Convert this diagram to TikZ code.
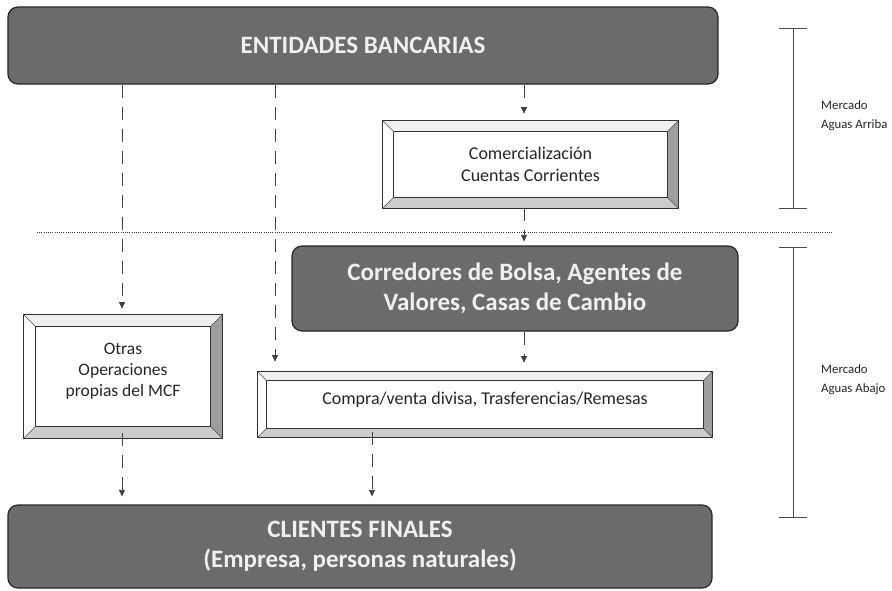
\documentclass[tikz,border=0pt]{standalone}
\usepackage{fontspec}
\setmainfont{Carlito}
\usetikzlibrary{calc,arrows.meta}
\tikzset{
  darkbox/.style={draw=black!85, line width=1.2pt, fill=black!58, rounded corners=10pt,
    text=black!6, font=\bfseries\fontsize{25}{30.5}\selectfont, align=center, inner sep=0pt},
  bevbox/.style={draw=black!80, line width=0.8pt, fill=white, inner sep=0pt},
  bevtext/.style={align=center, inner sep=0pt, font=\fontsize{18}{22.5}\selectfont, text=black!85},
  flow/.style={draw=black!75, line width=0.7pt, dash pattern=on 13pt off 9pt,
    -{Triangle[width=6pt,length=6.5pt]}},
  bracket/.style={draw=black!70, line width=0.7pt},
  side/.style={font=\fontsize{12.8}{19}\selectfont, align=left, anchor=west, text=black!85, inner sep=0pt}
}
\newcommand\bevelfaces[2]{%
  \fill[black!6] (#1.north west) -- (#1.north east) -- ($(#1.north east)+(-#2,#2)$) -- ($(#1.north west)+(#2,#2)$) -- cycle;
  \fill[white] (#1.north west) -- ($(#1.north west)+(#2,#2)$) -- ($(#1.south west)+(#2,-#2)$) -- (#1.south west) -- cycle;
  \fill[black!38] (#1.north east) -- (#1.south east) -- ($(#1.south east)+(-#2,-#2)$) -- ($(#1.north east)+(-#2,#2)$) -- cycle;
  \fill[black!20] (#1.south west) -- (#1.south east) -- ($(#1.south east)+(-#2,-#2)$) -- ($(#1.south west)+(#2,-#2)$) -- cycle;
  \draw[black!80, line width=0.8pt] (#1.north west) rectangle (#1.south east);
  \draw[black!80, line width=0.8pt] ($(#1.north west)+(#2,#2)$) rectangle ($(#1.south east)+(-#2,-#2)$);
  \draw[black!70, line width=0.5pt] (#1.north west) -- ($(#1.north west)+(#2,#2)$)
     (#1.north east) -- ($(#1.north east)+(-#2,#2)$)
     (#1.south west) -- ($(#1.south west)+(#2,-#2)$)
     (#1.south east) -- ($(#1.south east)+(-#2,-#2)$);
}
\begin{document}
\begin{tikzpicture}[x=1pt,y=-1pt]
\useasboundingbox[fill=white] (0,0) rectangle (892,590);

% dark boxes
\node[darkbox, minimum width=710pt, minimum height=77pt] (ent) at (363,45.5) {ENTIDADES BANCARIAS};
\node[darkbox, minimum width=446pt, minimum height=85pt] (corr) at (515,288.5)
  {Corredores de Bolsa, Agentes de\\Valores, Casas de Cambio};
\node[darkbox, minimum width=704pt, minimum height=83pt] (cli) at (360,546.5)
  {CLIENTES FINALES\\(Empresa, personas naturales)};

% bevel boxes
\node[bevbox, minimum width=295pt, minimum height=87pt] (com) at (530.5,164.5) {};
\bevelfaces{com}{11}
\node[bevtext] (comt) at (com.center) {Comercialización\\Cuentas Corrientes};

\node[bevbox, minimum width=198pt, minimum height=123pt] (otr) at (123,376.5) {};
\bevelfaces{otr}{12}
\node[bevtext, font=\fontsize{17.5}{21}\selectfont] (otrt) at (123,371) {Otras\\Operaciones\\propias del MCF};

\node[bevbox, minimum width=454pt, minimum height=65pt] (cmp) at (485,404.5) {};
\bevelfaces{cmp}{9}
\node[bevtext] (cmpt) at (485,400) {Compra/venta divisa, Trasferencias/Remesas};

% separator
\coordinate (dl) at (37,232);
\coordinate (dr) at (832,232);
\draw[black!75, line width=1pt, dash pattern=on 1pt off 1.2pt] (dl) -- (dr);

% flows
\draw[flow, shorten >=7pt] (ent.south -| 524,0) -- (com.north -| 524,0);
\draw[flow, shorten >=4pt] (com.south -| 524,0) -- (corr.north -| 524,0);
\draw[flow, shorten >=9pt] (corr.south -| 524,0) -- (cmp.north -| 524,0);
\draw[flow, shorten >=6pt] (ent.south -| 122,0) -- (otr.north -| 122,0);
\draw[flow, shorten >=10pt] (ent.south -| 275,0) -- (cmp.north -| 275,0);
\draw[flow, shorten >=8pt] ([yshift=5pt]otr.south -| 122,0) -- (cli.north -| 122,0);
\draw[flow, shorten >=8pt] ([yshift=5pt]cmp.south -| 372,0) -- (cli.north -| 372,0);

% brackets
\coordinate (b1t) at (793,28);
\coordinate (b1b) at (793,208);
\coordinate (b2t) at (793,247);
\coordinate (b2b) at (793,517);
\draw[bracket] (b1t) -- (b1b) ([xshift=-14pt]b1t) -- ([xshift=14pt]b1t) ([xshift=-14pt]b1b) -- ([xshift=14pt]b1b);
\draw[bracket] (b2t) -- (b2b) ([xshift=-14pt]b2t) -- ([xshift=14pt]b2t) ([xshift=-14pt]b2b) -- ([xshift=14pt]b2b);
\node[side] (arr) at (821,116) {Mercado\\Aguas Arriba};
\node[side] (aba) at (821,380) {Mercado\\Aguas Abajo};
\end{tikzpicture}
\end{document}
